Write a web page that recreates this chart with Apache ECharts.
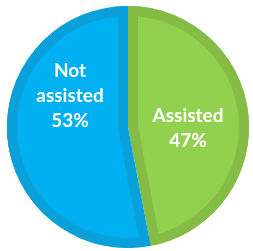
<!DOCTYPE html>
<html>
<head>
<meta charset="utf-8">
<script src="https://cdn.jsdelivr.net/npm/echarts@6/dist/echarts.min.js"></script>
<style>
  html, body { margin: 0; padding: 0; background: #ffffff; }
  #chart { width: 253px; height: 251px; }
</style>
</head>
<body>
<div id="chart"></div>
<script>
var categories = ['Assisted', 'Not assisted']
var values = [47, 53]
var labelTexts = ['Assisted\n47%', 'Not\nassisted\n53%']

var lightColors = ['#92D050', '#00B0F0']
var darkColors = ['#84BC46', '#0AA0DA']

var cx = 128
var cy = 127
var R = 121
var band = 10

var total = values.reduce(function (a, b) { return a + b }, 0)

// each slice's fill is drawn as a sector whose apex is moved inward,
// so its straight edges stay a constant band width away from the dividers
function shiftedCenter (index) {
  var start = 0
  for (var i = 0; i < index; i++) start += values[i] / total * 360
  var span = values[index] / total * 360
  var mid = (start + span / 2) * Math.PI / 180
  var dist = band / Math.sin(span / 2 * Math.PI / 180)
  return [cx + Math.sin(mid) * dist, cy - Math.cos(mid) * dist]
}

function pieData (colorFor) {
  return categories.map(function (name, i) {
    return { name: name, value: values[i], itemStyle: { color: colorFor(i) } }
  })
}

var labelPos = [{ x: 188, y: 128 }, { x: 70, y: 96 }]

var series = [{
  type: 'pie',
  silent: true,
  center: [cx, cy],
  radius: R,
  startAngle: 90,
  label: { show: false },
  labelLine: { show: false },
  data: pieData(function (i) { return darkColors[i] })
}]

categories.forEach(function (name, k) {
  series.push({
    type: 'pie',
    silent: true,
    center: shiftedCenter(k),
    radius: R - band,
    startAngle: 90,
    label: { show: false },
    labelLine: { show: false },
    data: pieData(function (i) { return i === k ? lightColors[i] : 'transparent' })
  })
})

series.push({
  type: 'pie',
  silent: true,
  center: [cx, cy],
  radius: [R - band, R],
  startAngle: 90,
  label: {
    show: true,
    position: 'inside',
    color: '#ffffff',
    fontFamily: 'Lato',
    fontWeight: 'bold',
    fontSize: 19,
    lineHeight: 25,
    formatter: function (p) { return labelTexts[p.dataIndex] }
  },
  labelLine: { show: false },
  labelLayout: function (params) {
    var p = labelPos[params.dataIndex]
    return { x: p.x, y: p.y, align: 'center', verticalAlign: 'middle' }
  },
  data: pieData(function (i) { return darkColors[i] })
})

var myChart = echarts.init(document.getElementById('chart'))
myChart.setOption({
  animation: false,
  backgroundColor: '#ffffff',
  series: series
})
</script>
</body>
</html>
